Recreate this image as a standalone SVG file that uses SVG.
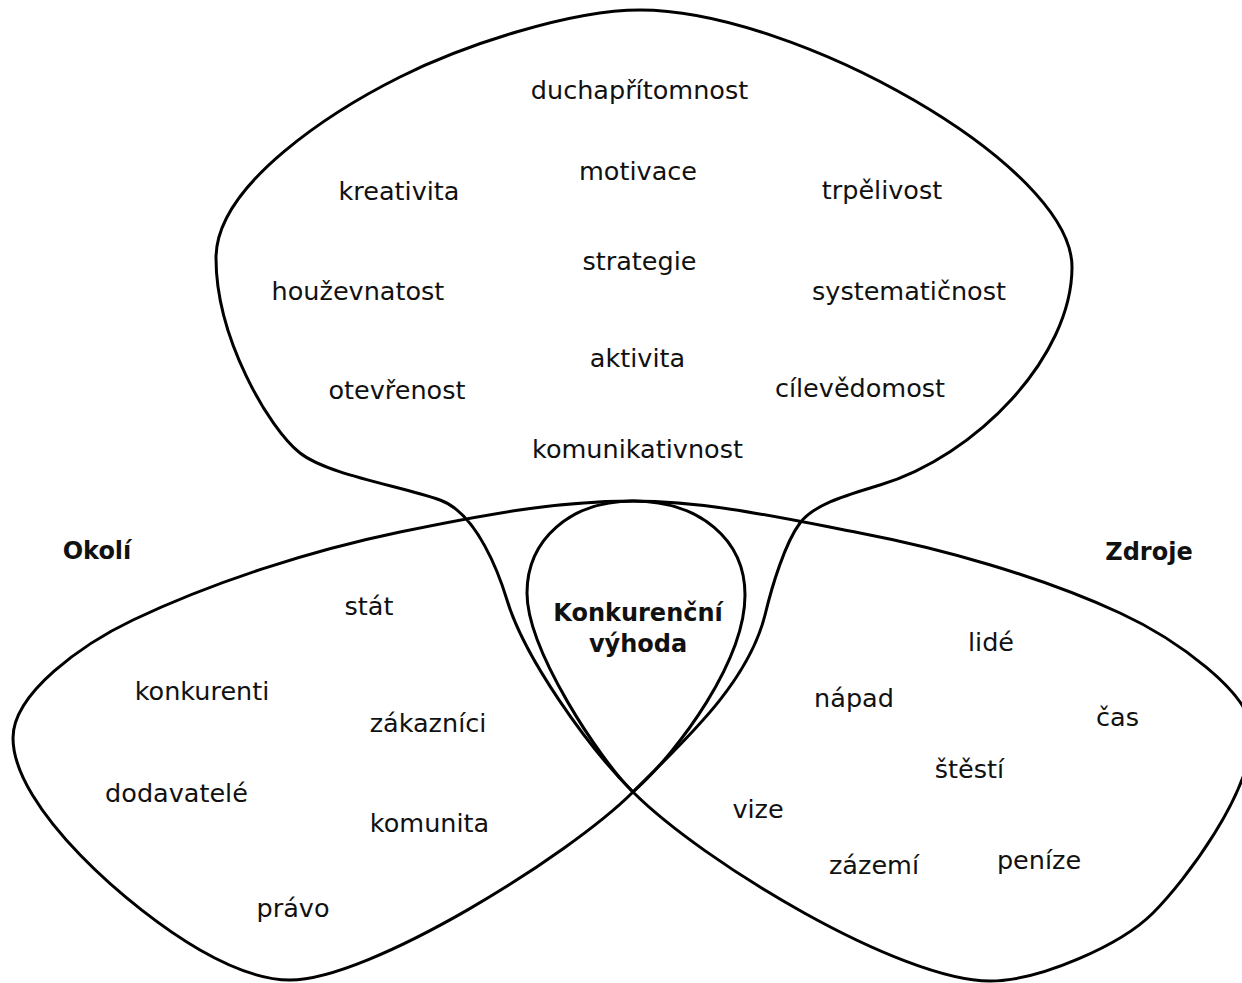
<svg xmlns="http://www.w3.org/2000/svg" width="1242" height="983" viewBox="0 0 1242 983">
<style>
.line{fill:none;stroke:#000;stroke-width:3;stroke-linejoin:round;stroke-linecap:round}
text{font-family:"DejaVu Sans","Liberation Sans",sans-serif;font-size:25.5px;fill:#111;text-anchor:middle}
.b{font-weight:bold;font-size:24px}
</style>
<rect width="1242" height="983" fill="#fff"/>
<g id="outlines">
<path class="line" d="M633,792 C686,739 748,683 765,615 C772,586 785,543 800,523 C815,503 851,494 880,485 C975.8,456.3 1072,357 1072,267 C1072,165 795,10 640,10 C570,10 462.6,45.7 400,77 C337.4,108.3 216,183 216,258 C216,338 268.8,428.2 300,453 C327.3,474.7 402.4,486.4 440,500 C477.6,513.6 499.75,576 507,600 C524.4,657.6 587,746 633,792 C703.7,862.7 900,981 990,981 C1040,981 1121.2,944.8 1153,913 C1184.8,881.2 1252,793 1252,733 C1252,693 1174.5,638.1 1120,613 C1038.3,575.3 938.6,548 860,533 C786.4,518.9 708,501 633,501 C553,501 473.4,516.8 400,532 C311.9,550.3 214.3,581.4 133,620 C83.3,643.6 13,693 13,738 C13,808 130.6,910.2 200,950 C230.3,967.4 262,980 290,980 C370,980 569.4,855.6 633,792 Z"/>
<path id="inner" class="line" d="M633,501 C700,501 745,540 745,595 C745,660 680,750 633,792 C600,760 527,650 527,593 C527,540 570,501 633,501 Z"/>
</g>
<g id="top-lobe">
<text x="639.5" y="99">duchapřítomnost</text>
<text x="638" y="180">motivace</text>
<text x="399" y="200">kreativita</text>
<text x="882" y="199">trpělivost</text>
<text x="639.5" y="270">strategie</text>
<text x="358" y="300">houževnatost</text>
<text x="909" y="300">systematičnost</text>
<text x="637.5" y="367">aktivita</text>
<text x="397" y="399">otevřenost</text>
<text x="860" y="397">cílevědomost</text>
<text x="637.5" y="458">komunikativnost</text>
</g>
<g id="okoli">
<text class="b" x="97" y="559">Okolí</text>
<text x="369" y="615">stát</text>
<text x="202" y="700">konkurenti</text>
<text x="428" y="732">zákazníci</text>
<text x="176.5" y="802">dodavatelé</text>
<text x="429.5" y="832">komunita</text>
<text x="293" y="917">právo</text>
</g>
<g id="zdroje">
<text class="b" x="1149" y="560">Zdroje</text>
<text x="991" y="651">lidé</text>
<text x="854" y="707">nápad</text>
<text x="1117.5" y="726">čas</text>
<text x="969.5" y="778">štěstí</text>
<text x="758" y="818">vize</text>
<text x="874" y="874">zázemí</text>
<text x="1039" y="869">peníze</text>
</g>
<g id="konkurencni-vyhoda">
<text class="b" x="638" y="621">Konkurenční</text>
<text class="b" x="638" y="652">výhoda</text>
</g>
</svg>
